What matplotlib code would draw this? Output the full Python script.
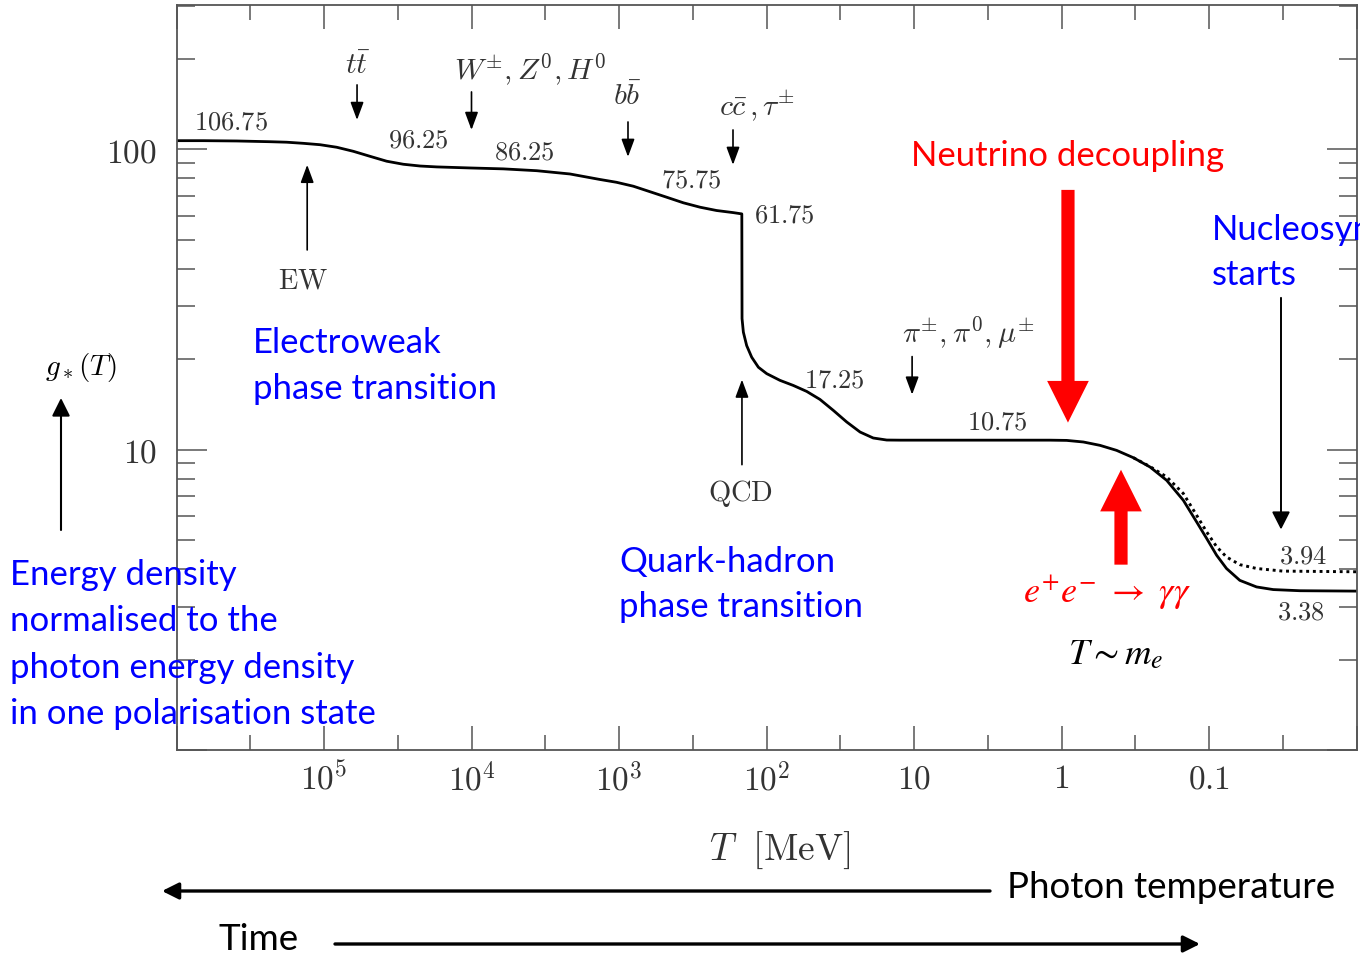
import numpy as np
import matplotlib
matplotlib.use("Agg")
import matplotlib.pyplot as plt
from matplotlib.ticker import FixedLocator, FixedFormatter, NullFormatter

plt.rcParams['mathtext.fontset'] = 'cm'

# ---------------- data ----------------
T_solid = [1.0e6, 6.58e5, 3.91e5, 2.32e5, 1.79e5, 1.38e5, 1.064e5, 8.2e4, 6.33e4, 4.88e4,
           3.76e4, 2.90e4, 2.23e4, 1.72e4, 1.02e4, 6.08e3, 3.61e3, 2.15e3, 1.35e3, 1.04e3,
           800, 617, 475, 366, 282, 218, 168, 147, 146.5, 143.5,
           136.3, 126, 113.5, 99.7, 81, 65.8, 53.4, 43.4, 35.2, 28.6,
           23.2, 18.9, 15.3, 12.4, 1.20, 0.922, 0.711, 0.548, 0.423, 0.326,
           0.251, 0.1936, 0.1493, 0.1212, 0.1037, 0.0888, 0.0761, 0.0618, 0.0476, 0.0367,
           0.0242, 0.01]
g_solid = [106.75, 106.75, 106.5, 105.9, 105.5, 104.6, 103.5, 101.5, 98.4, 94.7,
           91.2, 89.1, 87.9, 87.3, 86.6, 86.0, 84.8, 82.7, 79.3, 77.6,
           75.3, 72.2, 69.2, 66.3, 64.1, 62.5, 61.5, 60.9, 27.3, 24.6,
           22.2, 20.3, 18.8, 17.9, 17.0, 16.35, 15.62, 14.69, 13.5, 12.36,
           11.44, 10.93, 10.76, 10.75, 10.75, 10.73, 10.60, 10.33, 9.94, 9.40,
           8.75, 7.90, 6.78, 5.74, 5.06, 4.45, 4.02, 3.67, 3.49, 3.42,
           3.39, 3.38]

T_dotted = [0.326, 0.251, 0.1936, 0.1493, 0.1212, 0.1037, 0.0888, 0.0761, 0.0618, 0.0476,
            0.0316, 0.01]
g_dotted = [9.40, 8.78, 8.11, 7.14, 6.04, 5.32, 4.75, 4.39, 4.14, 4.02,
            3.94, 3.92]

step_labels = ['106.75', '96.25', '86.25', '75.75', '61.75', '17.25', '10.75', '3.94', '3.38']
step_T = [4.3e5, 2.3e4, 4.4e3, 325, 76, 34.4, 2.7, 0.0231, 0.0238]
step_g = [122.3, 106.6, 97.2, 78.5, 60.0, 16.96, 12.3, 4.41, 2.87]

particle_labels = [r'$t\bar{t}$', r'$W^{\pm}, Z^0, H^0$', r'$b\bar{b}$', r'$c\bar{c}\,, \tau^{\pm}$',
                   r'$\pi^{\pm}, \pi^0, \mu^{\pm}$']
particle_label_T = [5.88e4, 4.01e3, 883, 116, 4.31]
particle_label_g = [190.6, 183.5, 149.3, 140.4, 24.5]
particle_arrow_T = [5.97e4, 1.0e4, 869, 168.7, 10.3]
particle_arrow_g_from = [163.7, 155.1, 123.2, 115.9, 20.4]
particle_arrow_g_to = [125.1, 115.9, 94.3, 88.7, 15.24]

x_tick_values = [1e6, 1e5, 1e4, 1e3, 1e2, 1e1, 1e0, 1e-1, 1e-2]
x_tick_labels = ['', r'$10^5$', r'$10^4$', r'$10^3$', r'$10^2$', r'$10$', r'$1$', r'$0.1$', '']
x_minor_values = [10 ** (k + 0.5) for k in range(-2, 6)]
y_tick_values = [1, 10, 100]
y_tick_labels = ['', r'$10$', r'$100$']
y_minor_values = [m * 10 ** k for k in range(0, 3) for m in range(2, 10)]

# ---------------- figure ----------------
W, H = 1360, 956
fig = plt.figure(figsize=(W / 100, H / 100), dpi=100)


def fx(x):
    return x / W


def fy(y):
    return 1 - y / H


ax = fig.add_axes([fx(176.5), fy(750), fx(1356.5) - fx(176.5), fy(5) - fy(750)])
ax.set_xscale('log')
ax.set_yscale('log')
ax.set_xlim(1e6, 1e-2)
ax.set_ylim(1.0, 302)

ax.plot(T_solid, g_solid, color='black', lw=2.0, solid_joinstyle='round')
ax.plot(T_dotted, g_dotted, color='black', lw=2.1, linestyle=(0, (1, 1.3)))

spine_c = '#555555'
for s in ax.spines.values():
    s.set_color(spine_c)
    s.set_linewidth(1.3)

ax.xaxis.set_major_locator(FixedLocator(x_tick_values))
ax.xaxis.set_major_formatter(FixedFormatter(x_tick_labels))
ax.xaxis.set_minor_locator(FixedLocator(x_minor_values))
ax.xaxis.set_minor_formatter(NullFormatter())
ax.yaxis.set_major_locator(FixedLocator(y_tick_values))
ax.yaxis.set_major_formatter(FixedFormatter(y_tick_labels))
ax.yaxis.set_minor_locator(FixedLocator(y_minor_values))
ax.yaxis.set_minor_formatter(NullFormatter())

ax.tick_params(which='both', direction='in', top=True, right=True, color=spine_c,
               width=1.1, labelcolor='#333333', labelsize=24)
ax.tick_params(axis='x', which='major', length=17, pad=9)
ax.tick_params(axis='x', which='minor', length=11)
ax.tick_params(axis='y', which='major', length=21.5, pad=14)
ax.tick_params(axis='y', which='minor', length=13)

num_c = '#333333'
for s, t, g in zip(step_labels, step_T, step_g):
    ax.text(t, g, '$' + s + '$', fontsize=19, color=num_c, ha='center', va='center')

arrow_small = dict(arrowstyle='-|>,head_length=1.08,head_width=0.4', mutation_scale=10,
                   lw=1.2, color='black', shrinkA=0, shrinkB=0)
for s, t, g in zip(particle_labels, particle_label_T, particle_label_g):
    ax.text(t, g, s, fontsize=21.5, color=num_c, ha='center', va='center')
for t, g0, g1 in zip(particle_arrow_T, particle_arrow_g_from, particle_arrow_g_to):
    ax.annotate('', xy=(t, g1), xytext=(t, g0), arrowprops=arrow_small)

# EW and QCD
ax.text(1.39e5, 36.5, r'$\mathrm{EW}$', fontsize=20.5, color=num_c, ha='center', va='center')
ax.annotate('', xy=(1.30e5, 88.7), xytext=(1.30e5, 46.2), arrowprops=arrow_small)
ax.text(151.4, 7.14, r'$\mathrm{QCD}$', fontsize=20.5, color=num_c, ha='center', va='center')
ax.annotate('', xy=(146.7, 17.1), xytext=(146.7, 8.91), arrowprops=arrow_small)

# red thick arrows
red_arrow = dict(arrowstyle='simple,head_length=3.0,head_width=3.0,tail_width=0.95',
                 mutation_scale=10, color='#ff0000', lw=0, shrinkA=0, shrinkB=0)
ax.annotate('', xy=(0.904, 12.3), xytext=(0.904, 73.2), arrowprops=red_arrow)
ax.annotate('', xy=(0.395, 8.57), xytext=(0.395, 4.14), arrowprops=red_arrow)

# nucleosynthesis arrow
ax.annotate('', xy=(0.0325, 5.42), xytext=(0.0325, 32.0),
            arrowprops=dict(arrowstyle='-|>,head_length=1.08,head_width=0.55', mutation_scale=10,
                            lw=1.4, color='black', shrinkA=0, shrinkB=0))

# ---------------- free text ----------------
sans = 'Lato'
blue = '#0000ff'
red = '#ff0000'
fs = 25


def ftext(x, y, s, **kw):
    fig.text(fx(x), fy(y), s, va='baseline', ha='left', **kw)


ftext(911, 166, 'Neutrino decoupling', color=red, fontsize=fs, family=sans)
ftext(1212, 240, 'Nucleosynthesis', color=blue, fontsize=fs, family=sans)
ftext(1212, 285, 'starts', color=blue, fontsize=fs, family=sans)
ftext(253, 353, 'Electroweak', color=blue, fontsize=fs, family=sans)
ftext(253, 399, 'phase transition', color=blue, fontsize=fs, family=sans)
ftext(619, 572, 'Quark-hadron', color=blue, fontsize=fs, family=sans)
ftext(619, 617, 'phase transition', color=blue, fontsize=fs, family=sans)
for yb, s in zip([585, 631, 678, 724], ['Energy density', 'normalised to the',
                                        'photon energy density', 'in one polarisation state']):
    ftext(10, yb, s, color=blue, fontsize=fs, family=sans)

ftext(1007, 898, 'Photon temperature', color='black', fontsize=26.5, family=sans)
ftext(218, 950, 'Time', color='black', fontsize=26.5, family=sans)

fig.text(fx(780), fy(850), r'$T\ \ [\mathrm{MeV}]$', fontsize=27, color=num_c, ha='center', va='center')
fig.text(fx(81), fy(368), r'$g_*(T)$', fontsize=21, color='black', ha='center', va='center')
fig.text(fx(1116), fy(664), r'$T\sim m_e$', fontsize=26.5, color='black', ha='center', va='baseline',
         math_fontfamily='stix')
fig.text(fx(1107), fy(603), r'$e^{+}e^{-}\ \rightarrow\ \gamma\gamma$', fontsize=26, color=red,
         ha='center', va='baseline', math_fontfamily='stix')

# figure-level arrows
fig_arrow = dict(arrowstyle='-|>,head_length=1.1,head_width=0.55', mutation_scale=10,
                 lw=1.5, color='black', shrinkA=0, shrinkB=0)
ax.annotate('', xy=(fx(61), fy(398)), xytext=(fx(61), fy(530)), xycoords='figure fraction',
            textcoords='figure fraction', arrowprops=fig_arrow, annotation_clip=False)
big_arrow = dict(arrowstyle='-|>,head_length=1.0,head_width=0.5', mutation_scale=10,
                 lw=2.4, color='black', shrinkA=0, shrinkB=0)
ax.annotate('', xy=(fx(162), fy(891)), xytext=(fx(990), fy(891)), xycoords='figure fraction',
            textcoords='figure fraction', arrowprops=big_arrow, annotation_clip=False)
ax.annotate('', xy=(fx(1200), fy(944)), xytext=(fx(335), fy(944)), xycoords='figure fraction',
            textcoords='figure fraction', arrowprops=big_arrow, annotation_clip=False)

fig.savefig('out.png', dpi=100)
